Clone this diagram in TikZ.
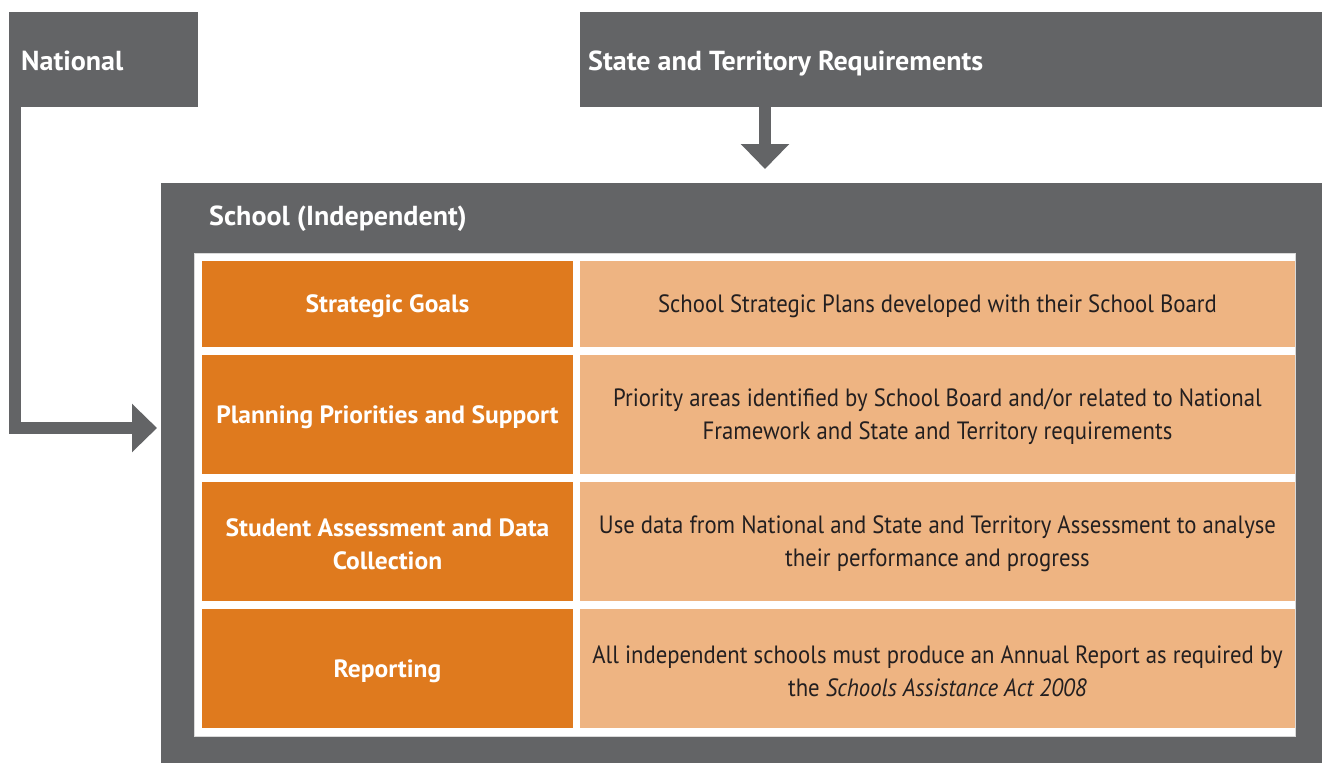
\documentclass[tikz,border=0pt]{standalone}
\usepackage{fontspec}
\setmainfont{PT Sans}[UprightFeatures={FakeStretch=0.91}, ItalicFeatures={FakeStretch=0.91}, BoldFeatures={FakeStretch=1.02}]
\usetikzlibrary{arrows.meta}
\definecolor{cgray}{HTML}{636466}
\definecolor{corange}{HTML}{DF7A1E}
\definecolor{clight}{HTML}{EEB482}
\definecolor{ctext}{HTML}{231F20}
\begin{document}
\begin{tikzpicture}[x=1pt,y=-1pt,
  gbox/.style={fill=cgray, draw=none, inner sep=0, outer sep=0, anchor=north west},
  htext/.style={text=white, font=\fontsize{27.5}{32}\selectfont\bfseries, anchor=base west, inner sep=0},
  lcell/.style={fill=corange, minimum width=371, inner sep=0, outer sep=0},
  rcell/.style={fill=clight, minimum width=715, inner sep=0, outer sep=0},
  ltext/.style={text=white, font=\fontsize{25}{33}\selectfont\bfseries, align=center, inner sep=0, yshift=-2.5pt},
  rtext/.style={text=ctext, font=\fontsize{25}{33}\selectfont, align=center, inner sep=0, yshift=-2.5pt},
  conn/.style={draw=cgray, line width=12, line join=miter, -{Triangle[width=47pt,length=25pt]}}]
\useasboundingbox (0,0) rectangle (1322,763);
\fill[white] (0,0) rectangle (1322,763);
% boxes
\node[gbox, minimum width=189, minimum height=95] (national) at (9,12) {};
\node[htext] (nationaltext) at (21,70) {National};
\node[gbox, minimum width=742, minimum height=95] (state) at (580,12) {};
\node[htext] (statetext) at (588,70) {State and Territory Requirements};
\node[gbox, minimum width=1161, minimum height=580] (school) at (161,183) {};
\node[htext] (schooltext) at (209,225) {School (Independent)};
% table background
\node[fill=white, draw=black!15, line width=0.8, inner sep=0, outer sep=0, anchor=north west, minimum width=1101, minimum height=483] (table) at (194,253) {};
% rows
\node[lcell, minimum height=86] (l1) at (387.5,304) {};
\node[rcell, minimum height=86] (r1) at (937.5,304) {};
\node[lcell, minimum height=119] (l2) at (387.5,414.5) {};
\node[rcell, minimum height=119] (r2) at (937.5,414.5) {};
\node[lcell, minimum height=119] (l3) at (387.5,541.5) {};
\node[rcell, minimum height=119] (r3) at (937.5,541.5) {};
\node[lcell, minimum height=119] (l4) at (387.5,668.5) {};
\node[rcell, minimum height=119] (r4) at (937.5,668.5) {};
\node[ltext] (l1t) at (l1) {Strategic Goals};
\node[rtext] (r1t) at (r1) {School Strategic Plans developed with their School Board};
\node[ltext] (l2t) at (l2) {Planning Priorities and Support};
\node[rtext] (r2t) at (r2) {Priority areas identified by School Board and/or related to National\\Framework and State and Territory requirements};
\node[ltext] (l3t) at (l3) {Student Assessment and Data\\Collection};
\node[rtext] (r3t) at (r3) {Use data from National and State and Territory Assessment to analyse\\their performance and progress};
\node[ltext] (l4t) at (l4) {Reporting};
\node[rtext] (r4t) at (r4) {All independent schools must produce an Annual Report as required by\\the \textit{Schools Assistance Act 2008}};
% connectors
\coordinate (dtop) at (765,107);
\coordinate (dtip) at (765,169);
\coordinate (ltip) at (157,428);
\draw[conn] (dtop) -- (dtip);
\draw[conn] ([xshift=6]national.south west) |- (ltip);
\end{tikzpicture}
\end{document}
